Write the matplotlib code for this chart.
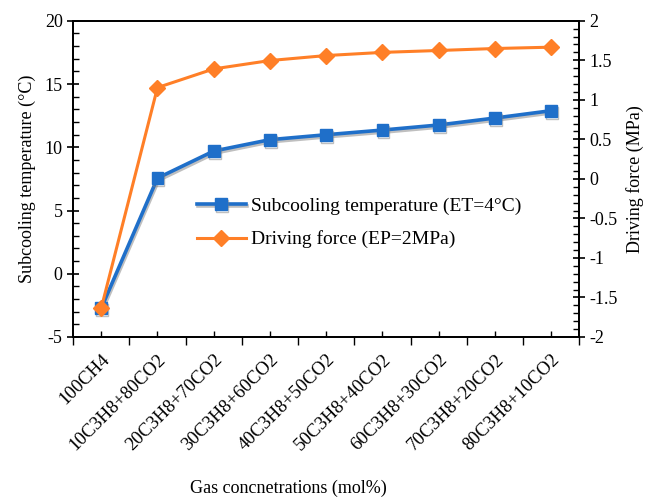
import matplotlib
matplotlib.use("Agg")
import matplotlib.pyplot as plt
import matplotlib.patheffects as pe
from matplotlib.ticker import MultipleLocator, FixedLocator

categories = [
    "100CH4", "10C3H8+80CO2", "20C3H8+70CO2", "30C3H8+60CO2", "40C3H8+50CO2",
    "50C3H8+40CO2", "60C3H8+30CO2", "70C3H8+20CO2", "80C3H8+10CO2",
]
subcooling = [-2.72, 7.56, 9.70, 10.60, 10.99, 11.36, 11.76, 12.31, 12.89]
driving_force = [-1.635, 1.155, 1.391, 1.497, 1.56, 1.60, 1.624, 1.649, 1.666]

BLUE = "#1f6fc9"
ORANGE = "#ff7f27"

plt.rcParams.update({
    "font.family": ["Liberation Serif", "DejaVu Serif"],
    "font.size": 13,
    "axes.linewidth": 1.3,
    "axes.unicode_minus": False,
})

fig = plt.figure(figsize=(6.53, 4.98), dpi=100)
ax = fig.add_axes([0.112, 0.3233, 0.775, 0.635])
ax2 = ax.twinx()

x = list(range(len(categories)))

l1, = ax.plot(x, subcooling, color=BLUE, linewidth=2.6, marker="s", markersize=8.5,
              label="Subcooling temperature (ET=4°C)", zorder=3,
              path_effects=[pe.SimpleLineShadow(offset=(0.8, -1.5), shadow_color="gray", alpha=0.5),
                            pe.Normal()])
l2, = ax2.plot(x, driving_force, color=ORANGE, linewidth=2.2, marker="D", markersize=8,
               label="Driving force (EP=2MPa)", zorder=3)

ax.set_xlim(-0.5, len(categories) - 0.5)
ax.set_ylim(-5, 20)
ax2.set_ylim(-2, 2)

ax.yaxis.set_major_locator(MultipleLocator(5))
ax.yaxis.set_minor_locator(MultipleLocator(1))
ax2.yaxis.set_major_locator(MultipleLocator(0.5))
ax2.yaxis.set_minor_locator(MultipleLocator(0.1))
ax2.yaxis.set_major_formatter(plt.FuncFormatter(lambda v, p: f"{v:g}"))

ax.xaxis.set_major_locator(FixedLocator([i - 0.5 for i in range(len(categories) + 1)]))
ax.set_xticklabels([])
ax.set_xticks(x, minor=True)
ax.set_xticklabels(categories, minor=True, rotation=45, ha="right", rotation_mode="anchor")

ax.tick_params(axis="x", which="major", direction="out", length=6, width=1.0)
ax.tick_params(axis="x", which="minor", direction="in", length=4, width=1.0, pad=10,
               labelsize=13.5)
ax.tick_params(axis="y", which="major", direction="inout", length=8, width=1.2)
ax.tick_params(axis="y", which="minor", direction="in", length=4, width=1.0)
ax2.tick_params(axis="y", which="major", direction="inout", length=8, width=1.2)
ax2.tick_params(axis="y", which="minor", direction="in", length=4, width=1.0)

ax.set_ylabel("Subcooling temperature (°C)", labelpad=6)
ax2.set_ylabel("Driving force (MPa)", labelpad=6)
ax.set_xlabel("Gas concnetrations (mol%)", labelpad=26)
ax.xaxis.set_label_coords(0.426, -0.45)

ax.legend([l1, l2], [l1.get_label(), l2.get_label()], loc="center left",
          bbox_to_anchor=(0.21, 0.361), frameon=False, handlelength=2.5,
          handletextpad=0.26, labelspacing=0.8, fontsize=14)

fig.savefig("out.png", dpi=100)
